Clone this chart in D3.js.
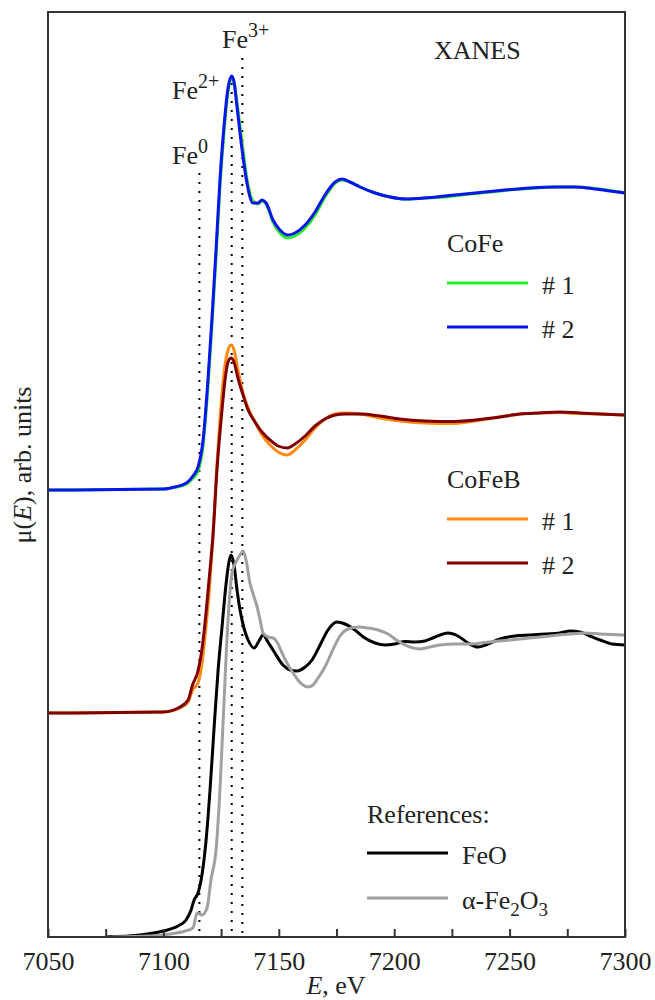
<!DOCTYPE html>
<html>
<head>
<meta charset="utf-8">
<script src="https://cdn.jsdelivr.net/npm/d3@7"></script>
<style>
  body { margin: 0; background: #fff; }
  svg text { font-family: "Liberation Serif", "DejaVu Serif", serif; fill: #222; }
</style>
</head>
<body>
<svg id="chart"></svg>
<script>
// ---- data (E in eV, mu in arb. units) ----
var xTicks = [7050, 7075, 7100, 7125, 7150, 7175, 7200, 7225, 7250, 7275, 7300]
var xLabels = [7050, 7100, 7150, 7200, 7250, 7300]

// CoFe #1 (green) and #2 (blue)
var eCoFe = [7050, 7100, 7105, 7110, 7112.8, 7115, 7117.2, 7119.3, 7121, 7122.8, 7124.5, 7126.3, 7128, 7129.6, 7130.6,
  7131.9, 7134.1, 7136.2, 7138.8, 7141, 7142.7, 7144.5, 7147.5, 7150.5, 7154, 7157, 7161.4, 7165.7, 7170, 7174.4,
  7177.4, 7180.8, 7185.2, 7191.7, 7198.2, 7204.7, 7213.3, 7222, 7230.7, 7239.3, 7248, 7258.8, 7269.7, 7278.3, 7287, 7293.5, 7300]
var muCoFe1 = [2.235, 2.24, 2.248, 2.265, 2.295, 2.33, 2.46, 2.75, 3.05, 3.40, 3.75, 4.03, 4.225, 4.295, 4.275,
  4.17, 3.97, 3.79, 3.68, 3.665, 3.68, 3.665, 3.575, 3.52, 3.495, 3.505, 3.545, 3.61, 3.70, 3.77,
  3.785, 3.775, 3.75, 3.72, 3.70, 3.69, 3.695, 3.70, 3.712, 3.722, 3.733, 3.743, 3.75, 3.75, 3.742, 3.732, 3.72]
var muCoFe2 = [2.235, 2.24, 2.25, 2.27, 2.305, 2.35, 2.485, 2.785, 3.085, 3.435, 3.785, 4.06, 4.245, 4.305, 4.275,
  4.15, 3.935, 3.77, 3.67, 3.67, 3.685, 3.67, 3.585, 3.535, 3.51, 3.52, 3.56, 3.625, 3.71, 3.775,
  3.79, 3.775, 3.75, 3.72, 3.70, 3.69, 3.695, 3.705, 3.715, 3.725, 3.735, 3.745, 3.75, 3.75, 3.74, 3.73, 3.72]

// CoFeB #1 (orange) and #2 (dark red)
var eCoFeB = [7050, 7100, 7107.2, 7110.7, 7112.6, 7115, 7116.6, 7118.3, 7119.9, 7121.5, 7123.2, 7125, 7126.7, 7128, 7129.3,
  7130.6, 7132.3, 7134.5, 7136.7, 7139.7, 7142.7, 7146.2, 7149.7, 7153.6, 7157, 7161.4, 7165.7, 7170, 7174.4, 7178.7,
  7185.2, 7193.8, 7202.5, 7213.3, 7224.2, 7235, 7245.8, 7254.5, 7263.2, 7271.8, 7280.5, 7289.2, 7300]
var muCoFeB1 = [1.12, 1.125, 1.145, 1.175, 1.235, 1.27, 1.36, 1.535, 1.735, 2.01, 2.36, 2.66, 2.86, 2.935, 2.96,
  2.935, 2.835, 2.72, 2.645, 2.575, 2.51, 2.46, 2.425, 2.41, 2.435, 2.485, 2.545, 2.59, 2.615, 2.62,
  2.615, 2.595, 2.58, 2.57, 2.567, 2.58, 2.60, 2.615, 2.62, 2.622, 2.617, 2.615, 2.61]
var muCoFeB2 = [1.12, 1.125, 1.15, 1.185, 1.26, 1.33, 1.43, 1.6, 1.8, 2.01, 2.335, 2.585, 2.785, 2.875, 2.895,
  2.875, 2.795, 2.71, 2.635, 2.575, 2.525, 2.485, 2.455, 2.445, 2.465, 2.505, 2.555, 2.59, 2.61, 2.615,
  2.615, 2.605, 2.59, 2.58, 2.577, 2.585, 2.60, 2.615, 2.62, 2.625, 2.62, 2.615, 2.61]

// references: FeO (black), alpha-Fe2O3 (gray)
var eFeO = [7075, 7089.9, 7100, 7106.3, 7109.8, 7112, 7113.3, 7115, 7116.7, 7118.5, 7120.2, 7121.9, 7123.7, 7125.4, 7127.1,
  7128.4, 7129.3, 7130.6, 7131.9, 7133.2, 7134.9, 7136.7, 7139.3, 7141.4, 7143.2, 7145.3, 7147.5, 7151.8, 7154.9, 7157.9,
  7161.4, 7164.4, 7167.9, 7171.3, 7175.2, 7178.7, 7183, 7187.3, 7191.7, 7196, 7200.3, 7204.7, 7209, 7213.3, 7217.7,
  7223.3, 7227.6, 7232, 7236.3, 7240.6, 7245.8, 7252.3, 7258.8, 7265.3, 7271.8, 7276.2, 7280.5, 7284.8, 7289.2, 7294.4, 7300]
var muFeO = [0.0, 0.01, 0.03, 0.055, 0.085, 0.135, 0.185, 0.22, 0.31, 0.485, 0.735, 1.035, 1.335, 1.55, 1.76,
  1.875, 1.91, 1.86, 1.735, 1.635, 1.545, 1.485, 1.445, 1.48, 1.51, 1.475, 1.435, 1.36, 1.335, 1.33,
  1.35, 1.385, 1.46, 1.535, 1.575, 1.565, 1.535, 1.495, 1.47, 1.46, 1.465, 1.478, 1.475, 1.48, 1.50,
  1.52, 1.505, 1.47, 1.45, 1.465, 1.49, 1.505, 1.51, 1.515, 1.52, 1.53, 1.525, 1.505, 1.485, 1.465, 1.46]
var eFe2O3 = [7078, 7094.2, 7102.9, 7109.4, 7112.8, 7114.6, 7116.7, 7118.9, 7120.6, 7122.8, 7124.5, 7126.3, 7128, 7129.7, 7131.5,
  7133.2, 7134.5, 7135.8, 7137.5, 7139.3, 7140.6, 7141.9, 7143.2, 7145.3, 7147.5, 7149.2, 7151.4, 7154, 7156.2, 7158.3,
  7160.5, 7162.7, 7164.8, 7167, 7170, 7173, 7176.5, 7180, 7184.3, 7188.6, 7193, 7197.3, 7201.6, 7206.8, 7211.2,
  7215.5, 7219.8, 7226.3, 7232.8, 7241.5, 7250.2, 7258.8, 7267.5, 7276.2, 7282.7, 7289.2, 7300]
var muFe2O3 = [0.0, 0.005, 0.015, 0.03, 0.045, 0.12, 0.11, 0.145, 0.285, 0.435, 0.735, 1.185, 1.585, 1.82, 1.875,
  1.91, 1.93, 1.885, 1.77, 1.70, 1.65, 1.585, 1.52, 1.50, 1.495, 1.475, 1.42, 1.36, 1.32, 1.285,
  1.26, 1.25, 1.26, 1.295, 1.35, 1.425, 1.505, 1.54, 1.55, 1.545, 1.535, 1.515, 1.48, 1.45, 1.44,
  1.45, 1.46, 1.465, 1.465, 1.475, 1.485, 1.495, 1.505, 1.515, 1.52, 1.515, 1.51]

// Fe oxidation-state marker energies
var markerE = [7115.6, 7129.6, 7134.2]
var markerNames = ["0", "2+", "3+"]

var screen = {width: 655, height: 1000}
var plot = {left: 48, right: 625, top: 12, bottom: 937}
var serif = "'Liberation Serif', 'DejaVu Serif', serif"

var xScale = d3.scaleLinear().domain([7050, 7300]).range([plot.left, plot.right])
var yScale = d3.scaleLinear().domain([0, 4.625]).range([plot.bottom, plot.top])

var svg = d3.select("#chart")
  .attr("width", screen.width)
  .attr("height", screen.height)

var clip = svg.append("clipPath").attr("id", "clip")
clip.append("rect")
  .attr("x", plot.left).attr("y", plot.top)
  .attr("width", plot.right - plot.left).attr("height", plot.bottom - plot.top)

// dotted markers
var markerTops = [3.82, 4.27, 4.395]
svg.selectAll(".marker")
  .data(markerE)
  .enter()
  .append("line")
  .attr("class", "marker")
  .attr("x1", function(d){ return xScale(d) })
  .attr("x2", function(d){ return xScale(d) })
  .attr("y1", function(d, i){ return yScale(markerTops[i]) })
  .attr("y2", plot.bottom)
  .attr("stroke", "#000")
  .attr("stroke-width", 2)
  .attr("stroke-dasharray", "2,7")

var line = d3.line()
  .x(function(d){ return xScale(d[0]) })
  .y(function(d){ return yScale(d[1]) })
  .curve(d3.curveMonotoneX)

var series = [
  {e: eCoFeB, mu: muCoFeB1, color: "#ff8a12"},
  {e: eCoFeB, mu: muCoFeB2, color: "#800000"},
  {e: eCoFe, mu: muCoFe1, color: "#22ee22"},
  {e: eCoFe, mu: muCoFe2, color: "#0a14ee"},
  {e: eFeO, mu: muFeO, color: "#000000"},
  {e: eFe2O3, mu: muFe2O3, color: "#a0a0a0"}
]

svg.append("g").attr("clip-path", "url(#clip)")
  .selectAll("path")
  .data(series)
  .enter()
  .append("path")
  .attr("d", function(s){ return line(d3.zip(s.e, s.mu)) })
  .attr("fill", "none")
  .attr("stroke", function(s){ return s.color })
  .attr("stroke-width", 3)
  .attr("stroke-linejoin", "round")

// frame
svg.append("rect")
  .attr("x", plot.left).attr("y", plot.top)
  .attr("width", plot.right - plot.left).attr("height", plot.bottom - plot.top)
  .attr("fill", "none")
  .attr("stroke", "#333")
  .attr("stroke-width", 2)

var xAxis = d3.axisBottom(xScale)
  .tickValues(xTicks)
  .tickSizeInner(-8)
  .tickSizeOuter(0)
  .tickPadding(15)
  .tickFormat(function(d){ return xLabels.indexOf(d) >= 0 ? d : "" })

var gx = svg.append("g")
  .attr("transform", "translate(0," + plot.bottom + ")")
  .call(xAxis)
  .attr("font-family", serif)
gx.select(".domain").remove()
gx.selectAll("line").attr("stroke", "#333").attr("stroke-width", 2)
gx.selectAll("text")
  .attr("font-size", 26)
  .style("font-family", serif)
  .attr("fill", "#222")

// axis titles
var xt = svg.append("text")
  .attr("x", 336).attr("y", 994)
  .attr("text-anchor", "middle")
  .attr("font-size", 26)
xt.append("tspan").attr("font-style", "italic").text("E")
xt.append("tspan").text(", eV")

var yt = svg.append("text")
  .attr("transform", "translate(31,465) rotate(-90)")
  .attr("text-anchor", "middle")
  .attr("font-size", 26)
yt.append("tspan").text("\u03bc(")
yt.append("tspan").attr("font-style", "italic").text("E")
yt.append("tspan").text("), arb. units")

// Fe labels
var labelPos = [[172, 164], [172, 99], [222, 48]]
markerNames.forEach(function(n, i){
  var t = svg.append("text")
    .attr("x", labelPos[i][0]).attr("y", labelPos[i][1])
    .attr("font-size", 26)
  t.append("tspan").text("Fe")
  t.append("tspan").attr("font-size", 20).attr("dy", -11).text(n)
})

svg.append("text").attr("x", 434).attr("y", 59).attr("font-size", 26).text("XANES")

// legends
var drawLegend = function(title, tx, ty, items){
  svg.append("text").attr("x", tx).attr("y", ty).attr("font-size", 26).text(title)
  items.forEach(function(it){
    svg.append("line")
      .attr("x1", tx).attr("x2", tx + 81)
      .attr("y1", it.y).attr("y2", it.y)
      .attr("stroke", it.color).attr("stroke-width", 3)
    var t = svg.append("text").attr("x", tx + 95).attr("y", it.y + 11).attr("font-size", 26)
    it.label(t)
  })
}

drawLegend("CoFe", 447, 252, [
  {y: 283, color: "#22ee22", label: function(t){ t.text("# 1") }},
  {y: 327, color: "#0a14ee", label: function(t){ t.text("# 2") }}
])
drawLegend("CoFeB", 447, 488, [
  {y: 519, color: "#ff8a12", label: function(t){ t.text("# 1") }},
  {y: 563, color: "#800000", label: function(t){ t.text("# 2") }}
])
drawLegend("References:", 367, 823, [
  {y: 853, color: "#000000", label: function(t){ t.text("FeO") }},
  {y: 898, color: "#a0a0a0", label: function(t){
    t.append("tspan").text("\u03b1-Fe")
    t.append("tspan").attr("font-size", 19).attr("dy", 7).text("2")
    t.append("tspan").attr("dy", -7).text("O")
    t.append("tspan").attr("font-size", 19).attr("dy", 7).text("3")
  }}
])
</script>
</body>
</html>
